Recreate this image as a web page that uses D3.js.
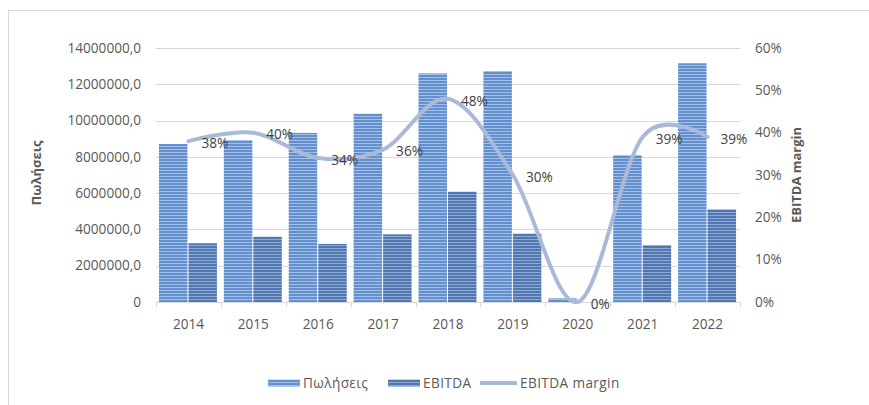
<!DOCTYPE html>
<html>
<head>
<meta charset="utf-8">
<script src="https://cdn.jsdelivr.net/npm/d3@7"></script>
<style>
  body { margin: 0; background: #fff; }
  svg { display: block; font-family: "Open Sans", "DejaVu Sans", sans-serif; }
</style>
</head>
<body>
<svg id="chart"></svg>
<script>
// data
const years = ["2014", "2015", "2016", "2017", "2018", "2019", "2020", "2021", "2022"];
const sales = [8710000, 8930000, 9320000, 10380000, 12600000, 12730000, 200000, 8100000, 13160000];
const ebitda = [3240000, 3600000, 3200000, 3730000, 6080000, 3770000, 0, 3140000, 5110000];
const margin = [0.38, 0.40, 0.34, 0.36, 0.48, 0.30, 0.0, 0.39, 0.39];
const leftTicks = [0, 2000000, 4000000, 6000000, 8000000, 10000000, 12000000, 14000000];
const rightTicks = [0, 0.1, 0.2, 0.3, 0.4, 0.5, 0.6];

const width = 869, height = 405;
const plot = { left: 156, right: 740, top: 48, bottom: 302 };
const textColor = "#595959";
const fontSize = 13.6;

const svg = d3.select("#chart").attr("width", width).attr("height", height);

// striped fills like the excel bars
const defs = svg.append("defs");
function stripes(id, base, light) {
  const p = defs.append("pattern")
    .attr("id", id)
    .attr("patternUnits", "userSpaceOnUse")
    .attr("width", 6).attr("height", 3);
  p.append("rect").attr("width", 6).attr("height", 3).attr("fill", base);
  p.append("rect").attr("y", 2).attr("width", 6).attr("height", 1).attr("fill", light);
}
stripes("salesFill", "#6390cd", "#a3c0e8");
stripes("ebitdaFill", "#5077b0", "#90a9d3");

// frame (only top and left visible in the picture)
svg.append("line").attr("x1", 8).attr("x2", width).attr("y1", 10.5).attr("y2", 10.5)
  .attr("stroke", "#d9d9d9");
svg.append("line").attr("x1", 8.5).attr("x2", 8.5).attr("y1", 10).attr("y2", height)
  .attr("stroke", "#d9d9d9");

const x = d3.scaleBand().domain(years).range([plot.left, plot.right]);
const inner = d3.scaleBand().domain(["sales", "ebitda"])
  .range([0, x.bandwidth()]).paddingOuter(0.1).paddingInner(0);
const y = d3.scaleLinear().domain([0, 14000000]).range([plot.bottom, plot.top]);
const yR = d3.scaleLinear().domain([0, 0.6]).range([plot.bottom, plot.top]);

// gridlines
svg.append("g")
  .selectAll("line")
  .data(leftTicks.slice(1))
  .join("line")
  .attr("x1", plot.left).attr("x2", plot.right)
  .attr("y1", d => Math.round(y(d)) + 0.5).attr("y2", d => Math.round(y(d)) + 0.5)
  .attr("stroke", "#d9d9d9");

// left axis labels
const fmtLeft = d => d === 0 ? "0" : d3.format(".1f")(d).replace(".", ",");
svg.append("g")
  .selectAll("text")
  .data(leftTicks)
  .join("text")
  .attr("x", 141)
  .attr("y", d => y(d))
  .attr("dy", "0.35em")
  .attr("text-anchor", "end")
  .attr("font-size", fontSize)
  .attr("fill", textColor)
  .text(fmtLeft);

// right axis labels
svg.append("g")
  .selectAll("text")
  .data(rightTicks)
  .join("text")
  .attr("x", 755)
  .attr("y", d => yR(d))
  .attr("dy", "0.35em")
  .attr("font-size", fontSize)
  .attr("fill", textColor)
  .text(d3.format(".0%"));

// axis titles
svg.append("text")
  .attr("transform", `translate(41,${(plot.top + plot.bottom) / 2 - 2}) rotate(-90)`)
  .attr("text-anchor", "middle")
  .attr("font-size", 13)
  .attr("font-weight", "bold")
  .attr("fill", textColor)
  .text("Πωλήσεις");

svg.append("text")
  .attr("transform", `translate(801,${(plot.top + plot.bottom) / 2}) rotate(-90)`)
  .attr("text-anchor", "middle")
  .attr("font-size", 13)
  .attr("font-weight", "bold")
  .attr("fill", textColor)
  .text("EBITDA margin");

// bars
const groups = svg.append("g")
  .selectAll("g")
  .data(years)
  .join("g")
  .attr("transform", d => `translate(${x(d)},0)`);

groups.append("rect")
  .attr("x", inner("sales"))
  .attr("width", inner.bandwidth() - 1)
  .attr("y", (d, i) => y(sales[i]))
  .attr("height", (d, i) => plot.bottom - y(sales[i]))
  .attr("fill", "url(#salesFill)");

groups.append("rect")
  .attr("x", inner("ebitda"))
  .attr("width", inner.bandwidth() - 1)
  .attr("y", (d, i) => y(ebitda[i]))
  .attr("height", (d, i) => plot.bottom - y(ebitda[i]))
  .attr("fill", "url(#ebitdaFill)");

// category axis
svg.append("line")
  .attr("x1", plot.left).attr("x2", plot.right)
  .attr("y1", plot.bottom + 0.5).attr("y2", plot.bottom + 0.5)
  .attr("stroke", "#d9d9d9");
svg.append("g")
  .selectAll("line")
  .data(d3.range(years.length + 1))
  .join("line")
  .attr("x1", d => Math.round(plot.left + d * x.step()) + 0.5)
  .attr("x2", d => Math.round(plot.left + d * x.step()) + 0.5)
  .attr("y1", plot.bottom).attr("y2", plot.bottom + 5)
  .attr("stroke", "#d9d9d9");
svg.append("g")
  .selectAll("text")
  .data(years)
  .join("text")
  .attr("x", d => x(d) + x.bandwidth() / 2)
  .attr("y", 324)
  .attr("dy", "0.35em")
  .attr("text-anchor", "middle")
  .attr("font-size", fontSize)
  .attr("fill", textColor)
  .text(d => d);

// margin line
const line = d3.line()
  .x((d, i) => x(years[i]) + x.bandwidth() / 2)
  .y(d => yR(d))
  .curve(d3.curveCatmullRom.alpha(0));

svg.append("path")
  .datum(margin)
  .attr("d", line)
  .attr("fill", "none")
  .attr("stroke", "#abb9d8")
  .attr("stroke-width", 4)
  .attr("stroke-linecap", "round");

svg.append("g")
  .selectAll("text")
  .data(margin)
  .join("text")
  .attr("x", (d, i) => x(years[i]) + x.bandwidth() / 2 + 13)
  .attr("y", d => yR(d) + 2)
  .attr("dy", "0.35em")
  .attr("font-size", fontSize)
  .attr("fill", "#404040")
  .text(d3.format(".0%"));

// legend
const legend = svg.append("g").attr("transform", "translate(0,383)");
const items = [
  { label: "Πωλήσεις", x: 268, type: "sales" },
  { label: "EBITDA", x: 388, type: "ebitda" },
  { label: "EBITDA margin", x: 480, type: "line" }
];
items.forEach(it => {
  if (it.type === "line") {
    legend.append("line")
      .attr("x1", it.x).attr("x2", it.x + 37)
      .attr("y1", 0).attr("y2", 0)
      .attr("stroke", "#abb9d8").attr("stroke-width", 4);
  } else {
    legend.append("rect")
      .attr("x", it.x).attr("y", -3.5)
      .attr("width", 32).attr("height", 7)
      .attr("fill", `url(#${it.type}Fill)`);
  }
  legend.append("text")
    .attr("x", it.x + (it.type === "line" ? 40 : 35))
    .attr("y", 0)
    .attr("dy", "0.35em")
    .attr("font-size", 13.6)
    .attr("letter-spacing", 0.4)
    .attr("fill", textColor)
    .text(it.label);
});
</script>
</body>
</html>
